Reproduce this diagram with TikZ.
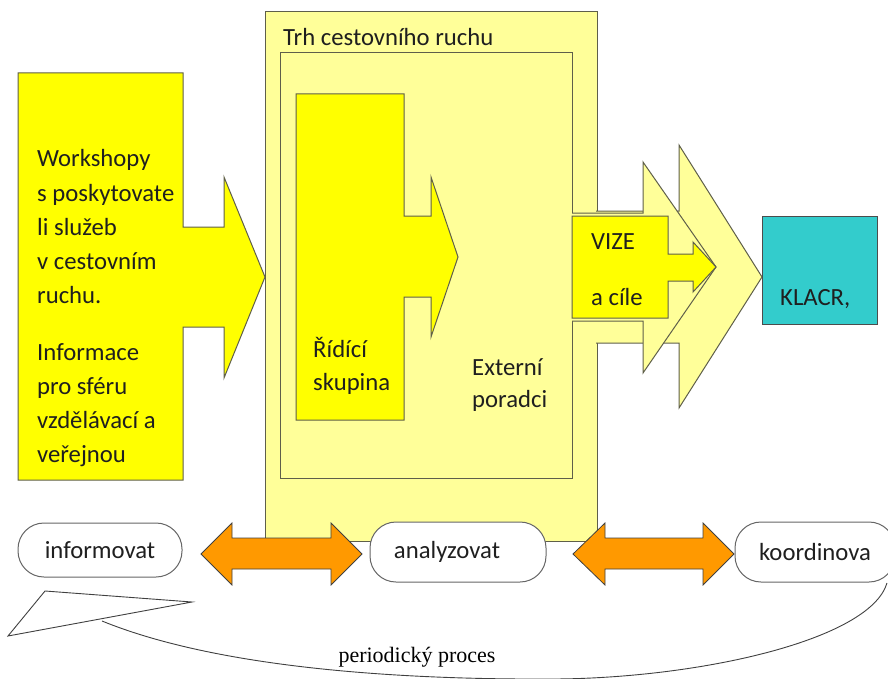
\documentclass[tikz,border=0pt]{standalone}
\usepackage{fontspec}
\setmainfont{Carlito}
\newfontfamily\procfont{Liberation Serif}
\definecolor{lightyel}{HTML}{FFFF99}
\definecolor{brightyel}{HTML}{FFFF00}
\definecolor{tealbox}{HTML}{33CCCC}
\definecolor{orangec}{HTML}{FF9900}
\definecolor{edgegray}{HTML}{5F5F4A}
\begin{document}
\begin{tikzpicture}[x=1pt,y=-1pt,
  outline/.style={draw=edgegray,line width=1pt,line join=miter},
  lightshape/.style={outline,fill=lightyel},
  brightshape/.style={outline,fill=brightyel},
  lbl/.style={font=\fontsize{24.7}{34}\selectfont,inner sep=0pt,anchor=base west,text=black!88},
  pill/.style={draw=black!60,line width=1pt,fill=white,rounded corners=26pt,
    font=\fontsize{24.7}{34}\selectfont,text=black!88,inner sep=0pt},
  orangearrow/.style={draw=black!75,line width=0.8pt,fill=orangec,line join=miter},
  cycleline/.style={draw=black!75,line width=0.9pt}]
\useasboundingbox (0,0) rectangle (888,679);
\begin{scope}
\clip (0,0) rectangle (888,679);

% outer market box and inner box
\draw[lightshape] (265,12) rectangle (597,541);
\node[lbl] (trh) at (283,46) {Trh cestovního ruchu};
\draw[lightshape] (280,53) rectangle (572,478);

% big light chevron arrows to KLACR
\draw[lightshape] (596,211) -- (679,211) -- (679,145) -- (762,277) -- (679,408) -- (679,343) -- (596,343);
\draw[lightshape] (572,213) -- (643,213) -- (643,162) -- (716,267) -- (643,373) -- (643,321) -- (572,321);

% VIZE arrow
\draw[brightshape] (572,216) -- (668,216) -- (668,254) -- (693,254) -- (693,242) -- (716,267)
  -- (693,292) -- (693,281) -- (668,281) -- (668,318) -- (572,318) -- cycle;
\node[lbl] (vize) at (591,249) {VIZE};
\node[lbl] (cile) at (591,305) {a cíle};

% Řídící skupina arrow
\draw[brightshape] (296,94) -- (404,94) -- (404,216) -- (431,216) -- (431,177) -- (458,257)
  -- (431,337) -- (431,297) -- (404,297) -- (404,420) -- (296,420) -- cycle;
\node[lbl] (rid1) at (313,357) {Řídící};
\node[lbl] (rid2) at (313,390) {skupina};

% Externí poradci
\node[lbl] (ext1) at (472,375) {Externí};
\node[lbl] (ext2) at (472,407) {poradci};

% left workshop arrow
\draw[brightshape] (18,73) -- (183,73) -- (183,227) -- (224,227) -- (224,177) -- (265,277)
  -- (224,378) -- (224,327) -- (183,327) -- (183,480) -- (18,480) -- cycle;
\foreach \t/\yy [count=\i] in {Workshopy/167,s poskytovate/201,li služeb/235,v cestovním/269,ruchu./303,Informace/360,pro sféru/394,vzdělávací a/428,veřejnou/462}
  \node[lbl] (ws\i) at (37,\yy) {\t};

% KLACR
\node[draw=black!70,line width=1pt,fill=tealbox,minimum width=115pt,minimum height=108pt,inner sep=0pt] (klacr) at (819.5,270) {};
\node[lbl] (klacrtxt) at (780,305) {KLACR,};

% periodic process curve
\coordinate (curvestart) at (887,583);
\coordinate (curveend) at (102,621);
\draw[cycleline] (curvestart) .. controls (870,640) and (700,678) .. (555,679)
  .. controls (380,680) and (210,665) .. (curveend);
\draw[cycleline,fill=white,line join=miter] (45,591) -- (192,602) -- (8,636) -- cycle;
\node[font=\procfont\fontsize{22}{24}\selectfont,inner sep=0pt,anchor=base] (proc) at (417,662) {periodický proces};

% bottom process nodes
\node[pill,minimum width=164pt,minimum height=54pt] (info) at (100,550) {informovat};
\node[pill,minimum width=176pt,minimum height=60pt] (ana) at (458,552) {\hspace*{-22pt}analyzovat};
\node[pill,minimum width=160pt,minimum height=60pt] (koord) at (815,552) {koordinova};

% orange double arrows
\draw[orangearrow] (201,554) -- (232,523) -- (232,538) -- (331,538) -- (331,523) -- (362,554)
  -- (331,585) -- (331,569) -- (232,569) -- (232,585) -- cycle;
\draw[orangearrow] (573,554) -- (605,523) -- (605,538) -- (703,538) -- (703,523) -- (734,554)
  -- (703,585) -- (703,569) -- (605,569) -- (605,585) -- cycle;
\end{scope}
\end{tikzpicture}
\end{document}
